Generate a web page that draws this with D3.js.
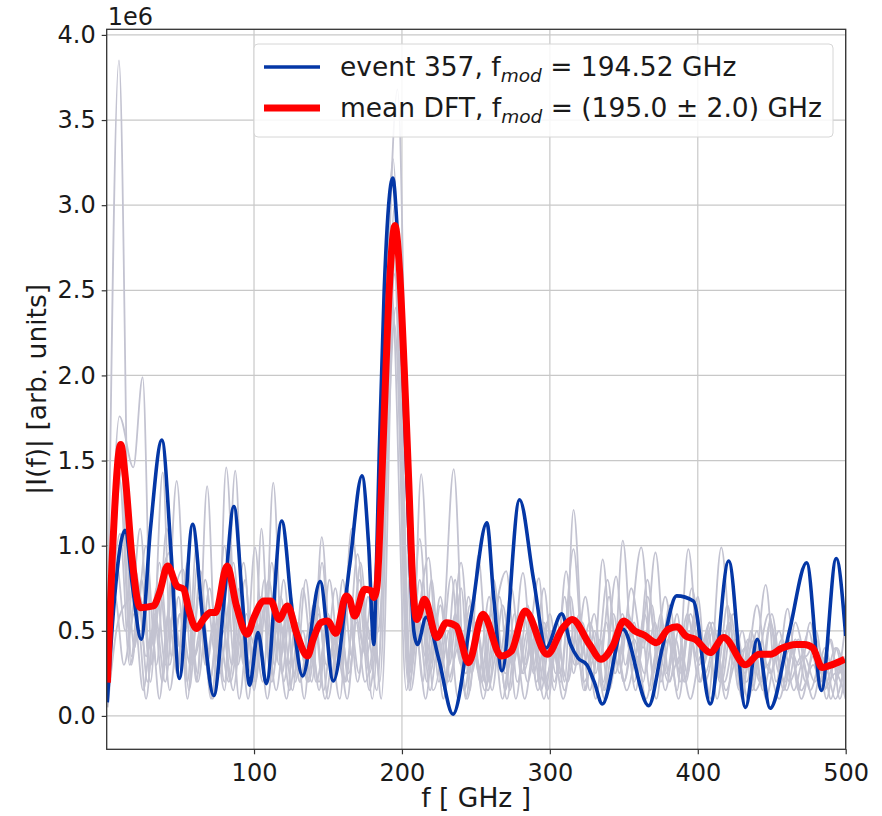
<!DOCTYPE html>
<html>
<head>
<meta charset="utf-8">
<script src="https://cdn.jsdelivr.net/npm/d3@7"></script>
<style>
  html, body { margin: 0; padding: 0; background: #ffffff; }
  svg text { font-family: "DejaVu Sans", sans-serif; fill: #1a1a1a; }
</style>
</head>
<body>
<svg id="chart" width="882" height="816"></svg>
<script>
// ---------------- data (frequency in GHz, |I(f)| in units of 1e6) ----------------
const xTicks = [100, 200, 300, 400, 500];
const yTicks = [0.0, 0.5, 1.0, 1.5, 2.0, 2.5, 3.0, 3.5, 4.0];

const legendLabels = ["event 357, f", "mean DFT, f"];

// event 357 (blue)
const eventSeries = [[0.8,0.08],[5,0.62],[12.8,1.09],[18,0.75],[23.7,0.45],[30,1.1],[37.7,1.62],[44,0.95],[49.5,0.22],[58.5,1.125],[65,0.6],[72.8,0.12],[80,0.7],[86.4,1.23],[92,0.7],[97,0.18],[102.7,0.49],[108.3,0.19],[118.7,1.145],[126,0.6],[132.8,0.235],[144.7,0.79],[153.6,0.205],[164.6,0.88],[173,1.41],[177.5,1.0],[181,0.42],[182.5,0.8],[184.7,1.56],[188,2.5],[191,3.0],[193.8,3.16],[196.5,2.9],[199.5,2.3],[202.5,1.6],[205.5,0.9],[208,0.5],[210.4,0.42],[216.4,0.58],[225,0.33],[234.5,0.01],[247,0.6],[257.4,1.135],[262,0.7],[267.6,0.265],[279.5,1.27],[289,0.8],[297.5,0.40],[308,0.60],[314,0.42],[319,0.34],[325,0.3],[330,0.2],[335.5,0.07],[349.3,0.51],[366.8,0.06],[376,0.4],[385.7,0.705],[397,0.675],[408.4,0.07],[420.9,0.91],[432.3,0.05],[440.2,0.45],[448.9,0.045],[462,0.5],[473.6,0.90],[483.6,0.15],[493.6,0.925],[500,0.47]];

// mean DFT (red)
const meanSeries = [[0.85,0.196],[4,0.9],[9.9,1.595],[13,1.4],[17.4,0.94],[23,0.636],[32,0.646],[36,0.72],[41.6,0.88],[47.9,0.763],[52.4,0.744],[56,0.62],[61,0.513],[66,0.57],[70.5,0.607],[74,0.607],[81.8,0.88],[88,0.65],[95.4,0.48],[100,0.58],[106.7,0.675],[111.3,0.675],[116.9,0.567],[122.6,0.646],[129,0.48],[136.1,0.352],[140,0.45],[145.2,0.548],[149.7,0.558],[155.4,0.485],[162.2,0.705],[164.6,0.685],[168,0.587],[174.8,0.744],[179.3,0.734],[180.9,0.695],[183,0.75],[186,1.3],[189,2.0],[192,2.6],[195.3,2.88],[198.5,2.6],[201.5,2.05],[204.5,1.4],[207.5,0.75],[210,0.567],[215.3,0.685],[223.6,0.46],[230,0.548],[236.7,0.528],[245,0.313],[254.7,0.597],[267.1,0.352],[273.9,0.38],[283.3,0.616],[298.2,0.362],[308.8,0.518],[315.1,0.567],[326.8,0.42],[334.5,0.333],[342.5,0.41],[350,0.558],[357.3,0.5],[364,0.474],[372,0.43],[380,0.509],[386.1,0.524],[391.8,0.47],[398.2,0.45],[408.4,0.372],[417.5,0.46],[432.3,0.3],[441.4,0.362],[449.3,0.362],[456.1,0.395],[466.4,0.42],[472,0.42],[477.7,0.4],[484.1,0.284],[491.4,0.303],[499.3,0.333]];

// other events (gray)
const gray1 = [[1,0.35],[8.7,3.85],[17,0.35],[22,0.7],[28,0.2],[34,0.75],[40,0.3],[47.7,1.38],[56,0.15],[63,0.7],[70,0.2],[78,0.8],[85,0.3],[93,0.9],[100,0.2],[105,1.1],[111,0.25],[118,0.7],[126,0.15],[133,0.75],[140,0.3],[145.8,1.05],[153,0.2],[160,0.8],[166,0.35],[172,0.9],[180,0.1],[194,3.27],[205,0.15],[212,1.04],[219,0.3],[226,0.7],[233,0.2],[240,0.75],[246,0.15],[251.4,0.94],[259,0.2],[266,0.7],[273,0.15],[281.8,0.84],[289,0.25],[296,0.55],[303,0.15],[310,0.7],[316,0.25],[322,0.55],[329,0.2],[335.7,0.92],[343,0.25],[349.3,1.03],[357,0.2],[364,0.6],[372,0.1],[379,0.55],[386,0.15],[393.6,0.98],[402,0.2],[408,0.55],[415,0.2],[422,0.6],[430,0.1],[436,0.5],[443,0.2],[450,0.6],[458,0.15],[466,0.45],[473,0.2],[480,0.5],[487,0.1],[494,0.4],[500,0.2]];
const gray2 = [[1,0.1],[9,1.76],[18.4,1.46],[24.7,1.99],[31,0.3],[38.3,1.43],[44,0.35],[50,0.6],[55,0.1],[62,0.9],[68,0.3],[74,0.6],[80,0.2],[87.3,1.44],[94,0.25],[100.7,0.99],[107,0.3],[113,1.37],[120,0.2],[127,0.6],[134,0.1],[140,0.65],[147,0.15],[155,0.75],[162,0.2],[170,0.95],[178,0.25],[183,0.6],[197,3.68],[207,0.3],[213,1.42],[221,0.15],[228,0.5],[235,1.45],[243,0.1],[250,0.55],[256,0.2],[262,0.8],[270,0.15],[276,0.6],[283,0.3],[292.6,0.81],[299,0.1],[305,0.55],[310,0.2],[316,1.21],[324,0.15],[330,0.5],[336,0.2],[344.8,0.82],[351,0.3],[357,0.55],[363,0.2],[371.4,0.96],[379,0.25],[386,0.6],[392,0.2],[400,0.7],[407,0.1],[415.9,0.99],[424,0.3],[430,0.5],[437,0.15],[445.9,0.77],[453,0.2],[460.7,0.63],[468,0.15],[476,0.55],[483,0.2],[490,0.45],[496,0.1],[500,0.3]];
const gray3 = [[1,0.05],[8,0.55],[15,0.68],[22,0.72],[30,0.4],[36,0.75],[43,0.96],[50,0.4],[56,0.6],[62,0.25],[68.3,1.35],[75,0.2],[81.2,1.46],[89,0.3],[95,0.6],[101,0.2],[107,0.65],[115,0.15],[122,0.6],[128,0.2],[135,0.8],[142,0.2],[150,0.55],[158,0.1],[166,1.1],[174,0.4],[180,0.7],[185,0.2],[195,3.0],[205,0.2],[210,0.5],[218,0.93],[225,0.2],[233.3,0.82],[240,0.3],[247,0.6],[255,0.1],[262,0.55],[270.5,0.85],[278,0.2],[285,0.5],[292,0.15],[300,0.6],[307,0.2],[316,0.98],[323,0.3],[330,0.6],[337,0.15],[344,0.5],[350,0.2],[361.8,0.99],[370,0.25],[378,0.7],[386,0.3],[393,0.6],[401,0.2],[410,0.55],[418,0.2],[425,0.45],[432,0.25],[440,0.65],[447,0.3],[455,0.5],[462,0.2],[470,0.35],[478,0.1],[486,0.4],[493,0.2],[500,0.55]];
const gray4 = [[1,0.2],[9.4,1.07],[16,0.3],[22,0.5],[27,0.1],[33,0.6],[40,0.2],[46,0.7],[52,0.86],[58,0.3],[65,0.55],[71,0.1],[78,0.65],[84,0.2],[92,0.6],[98,0.25],[105,0.7],[112,0.2],[118,0.55],[124,0.15],[130,0.5],[137,0.2],[144,0.6],[150,0.1],[158,0.55],[164,0.25],[171,0.7],[178,0.15],[182,0.4],[195.5,2.6],[205,0.25],[211,0.55],[217,0.2],[223,0.6],[229,0.15],[236,0.6],[243,0.25],[251,0.5],[258,0.15],[265,0.4],[271,0.1],[278,0.55],[285,0.2],[292,0.5],[298,0.15],[305,0.4],[312,0.2],[320,0.6],[327,0.15],[334,0.45],[340,0.15],[349,0.6],[356,0.3],[362,0.5],[368,0.15],[375,0.6],[381,0.2],[387,0.5],[393,0.25],[399,0.55],[405,0.2],[412,0.4],[419,0.1],[426,0.45],[433,0.2],[440,0.5],[446,0.1],[453,0.35],[460,0.15],[468,0.45],[476,0.15],[484,0.35],[490,0.1],[496,0.3],[500,0.15]];
const gray5 = [[1,0.4],[7,0.9],[13,0.5],[20,0.85],[27,0.35],[33,0.55],[38,0.2],[44,0.8],[50,0.4],[56,0.55],[62,0.2],[70,0.75],[77,0.25],[84,0.7],[90,0.1],[96,0.5],[103,0.35],[110,0.8],[117,0.3],[124,0.65],[131,0.2],[138,0.55],[144,0.15],[150,0.6],[156,0.3],[163,0.75],[170,0.2],[176,0.55],[183,0.15],[194.5,2.7],[204,0.2],[209,0.7],[216,0.35],[222,0.55],[228,0.1],[234,0.55],[240,0.3],[246,0.65],[253,0.2],[260,0.6],[267,0.3],[274,0.75],[281,0.25],[287,0.55],[294,0.15],[301,0.5],[307,0.25],[314,0.7],[320,0.3],[327,0.55],[334,0.3],[340,0.7],[347,0.25],[355,0.75],[363,0.4],[369,0.65],[375,0.2],[382,0.5],[388,0.25],[396,0.75],[404,0.3],[410,0.5],[416,0.2],[424,0.6],[432,0.3],[438,0.45],[444,0.15],[452,0.4],[459,0.2],[466,0.55],[473,0.35],[480,0.45],[487,0.25],[493,0.4],[500,0.1]];
const gray6 = [[1,0.1],[6,0.7],[12,0.3],[19,0.6],[25,0.15],[31,0.5],[36,0.1],[42,0.6],[48,0.25],[54,0.7],[60,0.35],[66,0.55],[72,0.1],[79,0.5],[86,0.15],[91,0.45],[96,0.1],[102,0.55],[108,0.2],[115,0.5],[122,0.1],[128,0.55],[135,0.3],[141,0.6],[148,0.1],[155,0.45],[161,0.2],[168,0.6],[176,0.35],[181,0.55],[186,0.1],[196,2.85],[206,0.15],[213,0.6],[219,0.15],[225,0.45],[231,0.2],[238,0.4],[244,0.1],[250,0.35],[256,0.15],[264,0.5],[270,0.25],[277,0.4],[283,0.1],[290,0.45],[296,0.2],[303,0.35],[309,0.1],[317,0.45],[323,0.2],[331,0.35],[337,0.1],[345,0.4],[352,0.15],[359,0.35],[365,0.1],[373,0.4],[380,0.2],[388,0.35],[395,0.1],[402,0.35],[409,0.1],[418,0.5],[425,0.3],[432,0.4],[439,0.15],[447,0.3],[455,0.1],[463,0.35],[470,0.15],[478,0.3],[485,0.15],[493,0.25],[500,0.1]];
const gray7 = [[1,0.3],[10,1.5],[17,0.3],[24,0.8],[30,0.2],[36,0.9],[43,0.3],[49,0.7],[55,0.2],[61,1.0],[67,0.3],[73,0.55],[80,0.15],[86,0.9],[93,0.3],[99,0.55],[106,0.2],[112,0.9],[119,0.25],[125,0.7],[131,0.2],[138,0.45],[144,0.2],[151,0.8],[158,0.3],[164,0.65],[171,0.25],[177,0.7],[184,0.3],[193,2.5],[203,0.15],[209,0.6],[214,0.2],[220,0.8],[226,0.25],[232,0.5],[238,0.1],[245,0.7],[252,0.25],[259,0.7],[265,0.3],[271,0.55],[277,0.1],[285,0.65],[291,0.2],[298,0.55],[304,0.25],[311,0.85],[318,0.3],[325,0.45],[331,0.1],[338,0.55],[344,0.25],[351,0.5],[358,0.15],[366,0.8],[373,0.3],[380,0.45],[387,0.1],[394,0.5],[401,0.3],[407,0.5],[413,0.1],[421,0.55],[428,0.15],[435,0.45],[442,0.2],[449,0.55],[456,0.3],[463,0.4],[470,0.1],[478,0.35],[485,0.15],[492,0.3],[500,0.2]];
const gray8 = [[1,0.2],[11,1.45],[19,0.4],[27,1.0],[34,0.3],[41,1.1],[48,0.3],[55,0.9],[61,0.2],[67,0.8],[74,0.35],[80,1.0],[87,0.3],[94,0.8],[100,0.15],[107,0.8],[114,0.3],[120,0.8],[127,0.25],[133,0.5],[139,0.2],[146,0.9],[152,0.35],[158,0.6],[164,0.2],[171,0.8],[178,0.45],[184,0.5],[196,2.4],[206,0.3],[212,0.8],[219,0.25],[226,0.65],[232,0.3],[240,0.9],[247,0.25],[254,0.55],[261,0.15],[268,0.65],[275,0.3],[282,0.6],[289,0.3],[296,0.75],[303,0.2],[310,0.55],[317,0.3],[324,0.7],[331,0.25],[339,0.8],[346,0.3],[353,0.6],[360,0.3],[366,0.7],[374,0.3],[381,0.65],[388,0.2],[395,0.6],[402,0.4],[408,0.55],[414,0.3],[420,0.65],[427,0.25],[434,0.45],[440,0.35],[448,0.6],[455,0.25],[461,0.45],[468,0.3],[475,0.5],[482,0.2],[489,0.45],[495,0.25],[500,0.35]];
const gray9 = [[1,0.15],[9,1.4],[16,0.5],[23,1.1],[30,0.3],[37,0.7],[43,0.15],[50,0.6],[57,0.3],[64,0.85],[70,0.2],[76,0.5],[83,0.2],[90,0.75],[96,0.3],[103,0.5],[109,0.1],[116,0.6],[123,0.3],[130,0.55],[136,0.2],[143,0.65],[149,0.3],[156,0.5],[163,0.1],[169,0.55],[175,0.2],[181,0.45],[195,2.3],[204,0.3],[210,0.45],[216,0.1],[222,0.5],[229,0.2],[236,0.8],[242,0.15],[248,0.4],[254,0.2],[261,0.55],[268,0.1],[275,0.5],[282,0.25],[289,0.45],[296,0.1],[303,0.45],[310,0.15],[317,0.55],[323,0.15],[330,0.4],[336,0.15],[343,0.6],[350,0.2],[357,0.45],[364,0.25],[371,0.55],[378,0.15],[385,0.45],[391,0.2],[398,0.6],[405,0.25],[412,0.45],[419,0.15],[427,0.35],[434,0.1],[442,0.4],[449,0.25],[457,0.45],[465,0.15],[472,0.35],[479,0.2],[486,0.3],[493,0.1],[500,0.35]];
const graySeries = [gray1, gray2, gray3, gray4, gray5, gray6, gray7, gray8, gray9];

// ---------------- layout ----------------
const svg = d3.select("#chart");
const M = { left: 106.7, top: 29.3, right: 845.7, bottom: 749.3 };
const FS_TICK = 24;
const FS_LABEL = 26.5;

const x = d3.scaleLinear().domain([0.4, 500]).range([M.left, M.right]);
const y = d3.scaleLinear().domain([-0.196, 4.033]).range([M.bottom, M.top]);

svg.append("defs").append("clipPath").attr("id", "plotclip")
  .append("rect").attr("x", M.left).attr("y", M.top)
  .attr("width", M.right - M.left).attr("height", M.bottom - M.top);

// grid
const grid = svg.append("g");
grid.selectAll("line.gx").data(xTicks).enter().append("line")
  .attr("x1", d => x(d)).attr("x2", d => x(d))
  .attr("y1", M.top).attr("y2", M.bottom)
  .attr("stroke", "#c8c8c8").attr("stroke-width", 1.2);
grid.selectAll("line.gy").data(yTicks).enter().append("line")
  .attr("y1", d => y(d)).attr("y2", d => y(d))
  .attr("x1", M.left).attr("x2", M.right)
  .attr("stroke", "#c8c8c8").attr("stroke-width", 1.2);

const line = d3.line().x(d => x(d[0])).y(d => y(d[1])).curve(d3.curveMonotoneX);

const plot = svg.append("g").attr("clip-path", "url(#plotclip)");
plot.selectAll("path.gray").data(graySeries).enter().append("path")
  .attr("d", line).attr("fill", "none")
  .attr("stroke", "#c3c3d1").attr("stroke-width", 1.8).attr("stroke-linejoin", "round");
plot.append("path").datum(eventSeries).attr("d", line).attr("fill", "none")
  .attr("stroke", "#0437a6").attr("stroke-width", 3.6).attr("stroke-linejoin", "round");
plot.append("path").datum(meanSeries).attr("d", line).attr("fill", "none")
  .attr("stroke", "#ff0000").attr("stroke-width", 7).attr("stroke-linejoin", "round");

// axes
const xAxis = d3.axisBottom(x).tickValues(xTicks).tickFormat(d3.format("d")).tickSize(5).tickPadding(6);
const yAxis = d3.axisLeft(y).tickValues(yTicks).tickFormat(d3.format(".1f")).tickSize(5).tickPadding(6);

const gx = svg.append("g").attr("transform", `translate(0,${M.bottom})`).call(xAxis);
const gy = svg.append("g").attr("transform", `translate(${M.left},0)`).call(yAxis);
[gx, gy].forEach(g => {
  g.select(".domain").remove();
  g.selectAll(".tick line").attr("stroke", "#333").attr("stroke-width", 1.2);
  g.selectAll(".tick text").attr("font-size", FS_TICK).attr("fill", "#1a1a1a")
    .attr("font-family", "DejaVu Sans, sans-serif");
});
gx.selectAll(".tick text").attr("dy", "0.85em");

// spines
svg.append("rect").attr("x", M.left).attr("y", M.top)
  .attr("width", M.right - M.left).attr("height", M.bottom - M.top)
  .attr("fill", "none").attr("stroke", "#333").attr("stroke-width", 1.3);

// offset text
svg.append("text").attr("x", M.left + 1).attr("y", 25).attr("font-size", FS_TICK).text("1e6");

// axis labels
svg.append("text").attr("x", (M.left + M.right) / 2).attr("y", 807)
  .attr("text-anchor", "middle").attr("font-size", FS_LABEL).text("f [ GHz ]");
svg.append("text").attr("transform", `translate(46,${(M.top + M.bottom) / 2}) rotate(-90)`)
  .attr("text-anchor", "middle").attr("font-size", FS_LABEL).text("|I(f)| [arb. units]");

// legend
const lg = svg.append("g");
lg.append("rect").attr("x", 254).attr("y", 44).attr("width", 579).attr("height", 93)
  .attr("rx", 4).attr("fill", "#ffffff").attr("fill-opacity", 0.85)
  .attr("stroke", "#d6d6d6").attr("stroke-width", 1);
const legItems = [
  { label: legendLabels[0], rest: " = 194.52 GHz", color: "#0437a6", w: 3.6, yy: 67 },
  { label: legendLabels[1], rest: " = (195.0 \u00b1 2.0) GHz", color: "#ff0000", w: 7, yy: 108 }
];
legItems.forEach(it => {
  lg.append("line").attr("x1", 264).attr("x2", 320).attr("y1", it.yy).attr("y2", it.yy)
    .attr("stroke", it.color).attr("stroke-width", it.w);
  const t = lg.append("text").attr("x", 340).attr("y", it.yy + 9).attr("font-size", FS_LABEL);
  t.append("tspan").text(it.label);
  t.append("tspan").attr("dy", 6).attr("font-size", 18.5).attr("font-style", "italic").text("mod");
  t.append("tspan").attr("dy", -6).text(it.rest);
});
</script>
</body>
</html>
